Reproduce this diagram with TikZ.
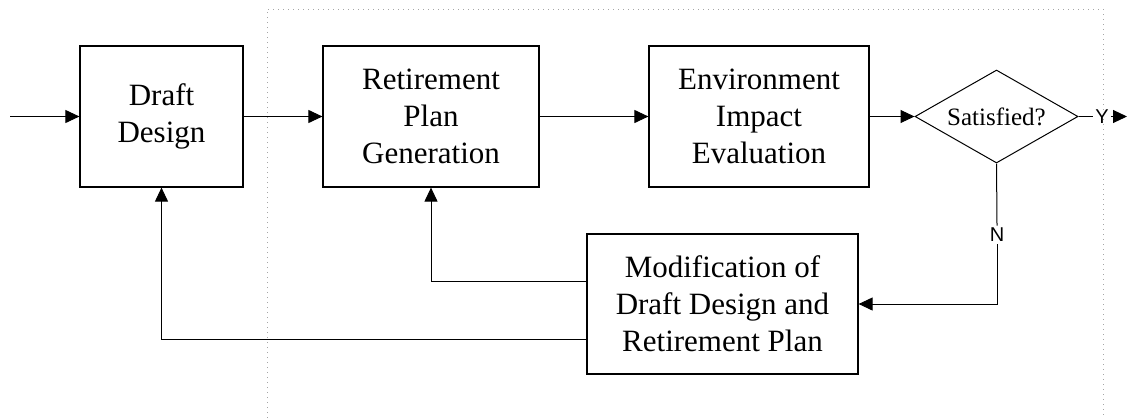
\documentclass[tikz,border=0pt]{standalone}
\usepackage{fontspec}
\setmainfont{Liberation Serif}
\newfontfamily\labfont{Liberation Sans}
\usetikzlibrary{shapes.geometric,arrows.meta}
\begin{document}
\begin{tikzpicture}[x=0.5pt,y=-0.5pt,
  box/.style={draw,line width=0.6pt,align=center,inner sep=0pt,
    font=\fontsize{15.5pt}{18.6pt}\selectfont},
  decision/.style={draw,line width=0.5pt,diamond,aspect=1.75,inner sep=0pt,
    minimum width=81.5pt,minimum height=46.5pt,font=\fontsize{12.5pt}{15pt}\selectfont},
  lab/.style={inner sep=1pt,font=\labfont\fontsize{10pt}{12pt}\selectfont},
  conn/.style={line width=0.5pt},
  arr/.style={conn,-{Triangle[length=7pt,width=6.5pt]}},
  frame/.style={gray!70,dotted,line width=0.5pt}]
\useasboundingbox (0,0) rectangle (1127,418);
\draw[frame] (267,418) -- (267,9) -- (1103,9) -- (1103,418);
\node[box,minimum width=81.5pt,minimum height=70.5pt] (draft) at (161.5,116.5) {Draft\\Design};
\node[box,minimum width=108pt,minimum height=70.5pt] (ret) at (431,116.5) {Retirement\\Plan\\Generation};
\node[box,minimum width=110pt,minimum height=70.5pt] (env) at (759,116.5) {Environment\\Impact\\Evaluation};
\node[decision] (sat) at (996.5,116.5) {Satisfied?};
\node[box,minimum width=135.5pt,minimum height=70pt] (mod) at (722.5,304) {Modification of\\Draft Design and\\Retirement Plan};
\node[lab] (yl) at (1102,116.5) {Y};
\node[lab] (nl) at (997,235) {N};
\coordinate (in) at (10,116.5);
\coordinate (yend) at (1127,116.5);
\draw[arr] (in) -- (draft.west);
\draw[arr] (draft.east) -- (ret.west);
\draw[arr] (ret.east) -- (env.west);
\draw[arr] (env.east) -- (sat.west);
\draw[conn] (sat.east) -- (yl.west);
\draw[arr] (yl.east) -- (yend);
\draw[conn] (sat.south) -- (nl.north);
\draw[arr] (nl.south) |- (mod.east);
\draw[arr] (mod.west |- 0,281) -| (ret.south);
\draw[arr] (mod.west |- 0,339) -| (draft.south);
\end{tikzpicture}
\end{document}
